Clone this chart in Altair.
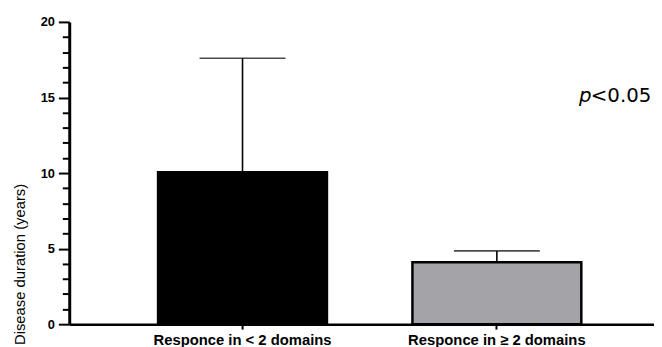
import altair as alt
import pandas as pd

# Data
groups = ["Responce in < 2 domains", "Responce in \u2265 2 domains"]
means = [10.05, 4.1]
upper = [17.6, 4.85]
fills = ["#000000", "#a4a3a8"]

y_ticks = list(range(0, 21))

df = pd.DataFrame({"group": groups, "mean": means, "upper": upper, "fill": fills})

x_scale = alt.Scale(paddingInner=0.336, paddingOuter=0.3175, align=0.55)
y_scale = alt.Scale(domain=[0, 20], nice=False)

x_axis = alt.Axis(
    title=None,
    labelAngle=0,
    labelLimit=400,
    labelFont="Liberation Sans",
    labelFontWeight="bold",
    labelFontSize=15,
    labelColor="black",
    labelPadding=4,
    tickSize=5,
    tickWidth=2,
    tickColor="black",
    domainColor="black",
    domainWidth=2.5,
    grid=False,
)

y_axis = alt.Axis(
    title="Disease duration (years)",
    titleFont="Liberation Sans",
    titleFontWeight="normal",
    titleFontSize=15,
    titleColor="black",
    titleAngle=270,
    titleX=-50,
    titleY=245,
    titleAlign="center",
    titleBaseline="middle",
    values=y_ticks,
    labelExpr="datum.value % 5 === 0 ? datum.label : ''",
    labelOverlap=False,
    labelFlush=False,
    labelFont="Liberation Sans",
    labelFontWeight="bold",
    labelFontSize=13,
    labelColor="black",
    labelPadding=4,
    tickSize={"condition": {"test": "datum.value % 5 === 0", "value": 11}, "value": 7},
    tickWidth=2,
    tickColor="black",
    domainColor="black",
    domainWidth=3,
    grid=False,
)

X = alt.X("group:N", sort=groups, scale=x_scale, axis=x_axis)

bars = alt.Chart(df).mark_bar(stroke="black", strokeWidth=2.5).encode(
    x=X,
    y=alt.Y("mean:Q", scale=y_scale, axis=y_axis),
    fill=alt.Fill("fill:N", scale=None),
)

stems = alt.Chart(df).mark_rule(color="black", strokeWidth=1.6).encode(
    x=X,
    y=alt.Y("mean:Q", scale=y_scale, axis=y_axis),
    y2="upper:Q",
)

caps = alt.Chart(df).mark_tick(color="black", size=87, thickness=1.6).encode(
    x=X,
    y=alt.Y("upper:Q", scale=y_scale, axis=y_axis),
)

p_label = alt.Chart(pd.DataFrame({"t": ["p"]})).mark_text(
    font="DejaVu Sans", fontSize=20, fontStyle="italic", align="left", baseline="alphabetic", color="black"
).encode(text="t:N", x=alt.value(516), y=alt.value(81))

p_value = alt.Chart(pd.DataFrame({"t": ["<0.05"]})).mark_text(
    font="DejaVu Sans", fontSize=20, align="left", baseline="alphabetic", color="black"
).encode(text="t:N", x=alt.value(528), y=alt.value(81))

chart = (
    alt.layer(bars, stems, caps, p_label, p_value)
    .properties(
        width=592,
        height=306,
        autosize=alt.AutoSizeParams(type="none"),
        padding={"left": 62, "top": 12, "right": 0, "bottom": 21},
        background="white",
    )
    .configure_view(stroke=None, strokeWidth=0)
    .configure_axis(grid=False)
)

chart.save("out.html", embed_options={"renderer": "svg", "actions": False})
